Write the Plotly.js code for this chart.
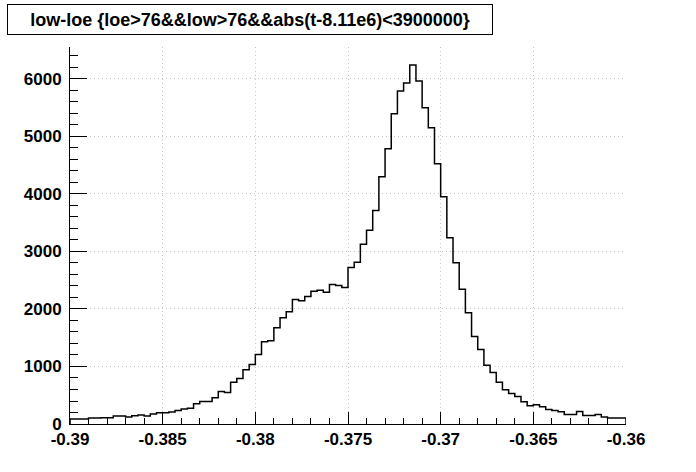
<!DOCTYPE html>
<html>
<head>
<meta charset="utf-8">
<script src="https://cdn.plot.ly/plotly-3.0.1.min.js"></script>
<style>html,body{margin:0;padding:0;background:#fff;}#chart{width:696px;height:472px;}</style>
</head>
<body>
<div id="chart"></div>
<script>
var titleText = "low-loe {loe>76&&low>76&&abs(t-8.11e6)<3900000}";
var xMin = -0.39;
var xMax = -0.36;
var nBins = 90;
var counts = [
  85, 85, 88, 105, 105, 108, 110, 140, 140, 123,
  145, 155, 140, 175, 195, 195, 210, 233, 262, 275,
  350, 390, 390, 455, 565, 548, 728, 790, 943, 1033,
  1208, 1430, 1448, 1674, 1849, 1953, 2163, 2145, 2215, 2308,
  2326, 2291, 2424, 2407, 2372, 2721, 2814, 3125, 3368, 3711,
  4301, 4786, 5393, 5792, 5931, 6243, 5965, 5497, 5150, 4526,
  3950, 3240, 2803, 2341, 1936, 1520, 1295, 1023, 896, 725,
  596, 532, 477, 386, 316, 333, 298, 251, 234, 211,
  164, 164, 216, 146, 146, 164, 123, 105, 105, 105
];
var xTickVals = [-0.39, -0.385, -0.38, -0.375, -0.37, -0.365, -0.36];
var xTickText = ["-0.39", "-0.385", "-0.38", "-0.375", "-0.37", "-0.365", "-0.36"];
var yTickVals = [0, 1000, 2000, 3000, 4000, 5000, 6000];
var yTickText = ["0", "1000", "2000", "3000", "4000", "5000", "6000"];

var binW = (xMax - xMin) / nBins;
var xs = [xMin], ys = [0];
for (var i = 0; i < nBins; i++) {
  xs.push(xMin + i * binW); ys.push(counts[i]);
}
xs.push(xMax); ys.push(counts[nBins - 1]);
xs.push(xMax); ys.push(0);

var peak = Math.max.apply(null, counts);
var yMax = peak * 1.05;

var font = {family: "Liberation Sans, Arial, sans-serif", size: 17, color: "#000"};

var trace = {
  x: xs, y: ys, type: "scatter", mode: "lines",
  line: {shape: "hv", color: "#000", width: 1.5},
  hoverinfo: "skip", cliponaxis: false
};

var layout = {
  width: 696, height: 472,
  margin: {l: 70, r: 70, t: 47, b: 48, pad: 0},
  paper_bgcolor: "#fff", plot_bgcolor: "#fff",
  showlegend: false,
  font: font,
  xaxis: {
    range: [xMin, xMax], tickvals: xTickVals, ticktext: xTickText,
    ticks: "inside", ticklen: 12, tickwidth: 1, tickcolor: "#000",
    showline: true, linecolor: "#000", linewidth: 1, mirror: false,
    showgrid: true, gridcolor: "#c4c4c4", griddash: "1px,3px", gridwidth: 1,
    zeroline: false, tickfont: {family: font.family, size: 17, color: "#000", weight: "bold"},
    minor: {dtick: 0.001, tick0: -0.39, ticks: "inside", ticklen: 6, tickcolor: "#000", showgrid: false},
    fixedrange: true
  },
  yaxis: {
    range: [0, yMax], tickvals: yTickVals, ticktext: yTickText,
    ticks: "inside", ticklen: 17, tickwidth: 1, tickcolor: "#000",
    showline: true, linecolor: "#000", linewidth: 1, mirror: false,
    showgrid: true, gridcolor: "#c4c4c4", griddash: "1px,3px", gridwidth: 1,
    zeroline: false, tickfont: {family: font.family, size: 17, color: "#000", weight: "bold"},
    minor: {dtick: 200, tick0: 0, ticks: "inside", ticklen: 8, tickcolor: "#000", showgrid: false},
    ticklabelstandoff: 4,
    fixedrange: true
  },
  annotations: [{
    text: "<b>" + titleText + "</b>",
    xref: "paper", yref: "paper",
    x: (250 - 70) / 556, y: (424 - 19.5) / 377,
    xanchor: "center", yanchor: "middle",
    showarrow: false, width: 484, height: 29,
    bordercolor: "#000", borderwidth: 1, bgcolor: "#fff", borderpad: 0,
    font: {family: font.family, size: 18, color: "#000"}
  }]
};

Plotly.newPlot("chart", [trace], layout, {staticPlot: true, displayModeBar: false});
</script>
</body>
</html>
